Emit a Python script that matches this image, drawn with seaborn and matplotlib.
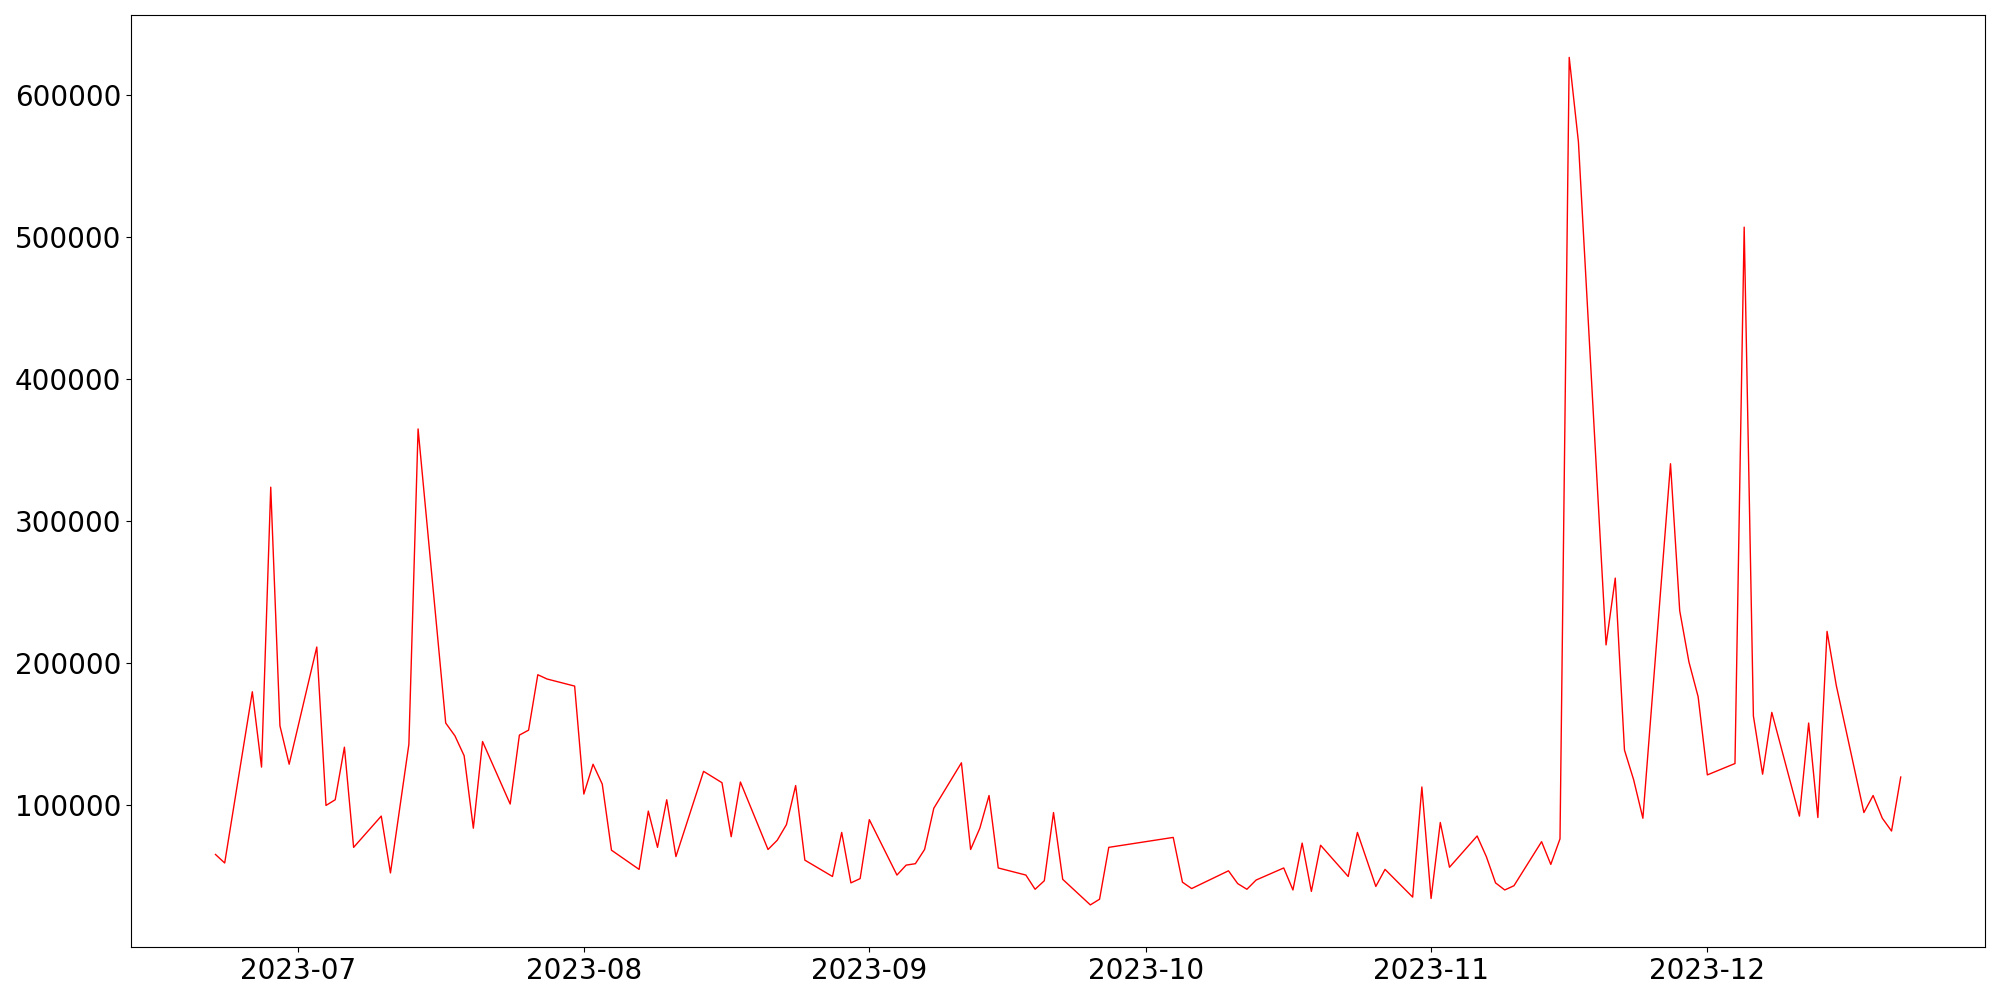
import pandas as pd
import matplotlib
matplotlib.use("Agg")
import matplotlib.pyplot as plt
import seaborn as sns

# daily values (weekdays, some days missing)
dates = [
    "2023-06-22", "2023-06-23", "2023-06-26", "2023-06-27", "2023-06-28", "2023-06-29", "2023-06-30",
    "2023-07-03", "2023-07-04", "2023-07-05", "2023-07-06", "2023-07-07",
    "2023-07-10", "2023-07-11", "2023-07-13", "2023-07-14",
    "2023-07-17", "2023-07-18", "2023-07-19", "2023-07-20", "2023-07-21",
    "2023-07-24", "2023-07-25", "2023-07-26", "2023-07-27", "2023-07-28",
    "2023-07-31", "2023-08-01", "2023-08-02", "2023-08-03", "2023-08-04",
    "2023-08-07", "2023-08-08", "2023-08-09", "2023-08-10", "2023-08-11",
    "2023-08-14", "2023-08-16", "2023-08-17", "2023-08-18",
    "2023-08-21", "2023-08-22", "2023-08-23", "2023-08-24", "2023-08-25",
    "2023-08-28", "2023-08-29", "2023-08-30", "2023-08-31", "2023-09-01",
    "2023-09-04", "2023-09-05", "2023-09-06", "2023-09-07", "2023-09-08",
    "2023-09-11", "2023-09-12", "2023-09-13", "2023-09-14", "2023-09-15",
    "2023-09-18", "2023-09-19", "2023-09-20", "2023-09-21", "2023-09-22",
    "2023-09-25", "2023-09-26", "2023-09-27",
    "2023-10-04", "2023-10-05", "2023-10-06",
    "2023-10-10", "2023-10-11", "2023-10-12", "2023-10-13",
    "2023-10-16", "2023-10-17", "2023-10-18", "2023-10-19", "2023-10-20",
    "2023-10-23", "2023-10-24", "2023-10-26", "2023-10-27",
    "2023-10-30", "2023-10-31", "2023-11-01", "2023-11-02", "2023-11-03",
    "2023-11-06", "2023-11-07", "2023-11-08", "2023-11-09", "2023-11-10",
    "2023-11-13", "2023-11-14", "2023-11-15", "2023-11-16", "2023-11-17",
    "2023-11-20", "2023-11-21", "2023-11-22", "2023-11-23", "2023-11-24",
    "2023-11-27", "2023-11-28", "2023-11-29", "2023-11-30", "2023-12-01",
    "2023-12-04", "2023-12-05", "2023-12-06", "2023-12-07", "2023-12-08",
    "2023-12-11", "2023-12-12", "2023-12-13", "2023-12-14", "2023-12-15",
    "2023-12-18", "2023-12-19", "2023-12-20", "2023-12-21", "2023-12-22",
]

values = [
    65500, 59500, 180000, 127000, 324000, 156000, 129000,
    211500, 100000, 104000, 141000, 70500,
    92500, 52500, 143000, 365000,
    158000, 149000, 135000, 84000, 145000,
    101000, 149500, 153000, 192000, 189000,
    184000, 108000, 129000, 115000, 68500,
    55000, 96000, 70500, 104000, 64000,
    124000, 116000, 78000, 116500,
    69000, 75500, 86500, 114000, 61500,
    50000, 81000, 45500, 48500, 90000,
    51000, 58000, 59000, 69000, 98000,
    130000, 69000, 84000, 107000, 56000,
    51000, 41000, 47000, 95000, 48000,
    30000, 34000, 70500,
    77500, 46000, 41500,
    54000, 45000, 41000, 47500,
    56000, 40500, 73500, 39500, 72000,
    50000, 81000, 43000, 55000,
    35500, 113000, 34500, 88000, 56500,
    78500, 64000, 45500, 40500, 43500,
    74500, 58500, 76500, 626500, 567000,
    213000, 260000, 139000, 118000, 91000,
    340500, 237000, 201000, 176500, 121500,
    129500, 507000, 163000, 122000, 165500,
    92500, 158000, 91500, 222500, 184500,
    95000, 107000, 91000, 82000, 120000,
]

df = pd.DataFrame({"date": pd.to_datetime(dates), "value": values})

fig, ax = plt.subplots(figsize=(20, 10), dpi=100)
sns.lineplot(data=df, x="date", y="value", color="red", linewidth=1, ax=ax)
ax.set_xlabel("")
ax.set_ylabel("")
ax.tick_params(axis="both", labelsize=20)
plt.tight_layout()
plt.savefig("out.png")
